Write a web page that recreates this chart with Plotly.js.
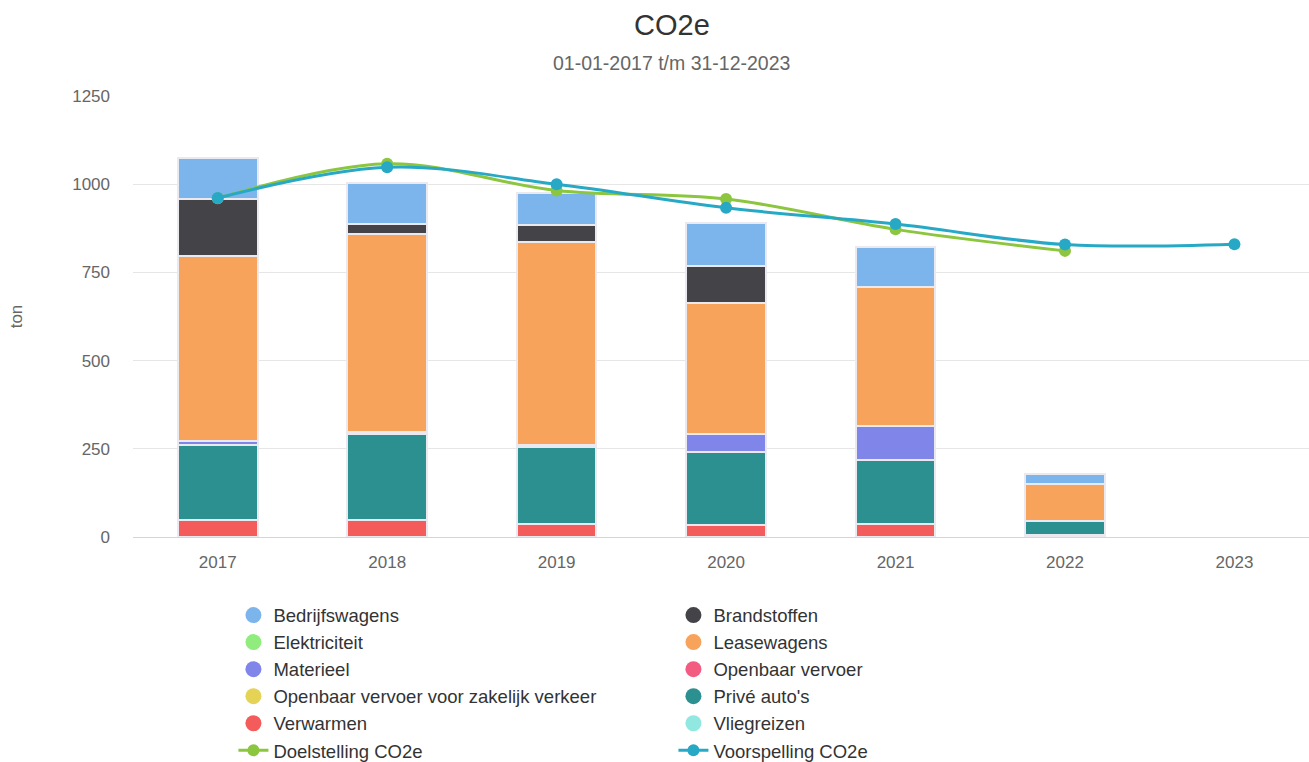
<!DOCTYPE html>
<html>
<head>
<meta charset="utf-8">
<script src="https://cdn.plot.ly/plotly-3.0.1.min.js"></script>
<style>html,body{margin:0;padding:0;background:#fff;}#chart{width:1309px;height:762px;}</style>
</head>
<body>
<div id="chart"></div>
<script>
// ---- data ----
const years = ['2017', '2018', '2019', '2020', '2021', '2022', '2023'];
const bedrijfswagens = [115, 116, 92, 120, 112, 30, 0];
const brandstoffen = [162, 28, 49, 107, 0, 0, 0];
const elektriciteit = [0, 0, 0, 0, 0, 0, 0];
const leasewagens = [523, 559, 575, 371, 394, 104, 0];
const materieel = [12, 8, 4, 49, 97, 0, 0];
const openbaarVervoer = [0, 0, 0, 0, 0, 0, 0];
const ovZakelijk = [0, 0, 0, 0, 0, 0, 0];
const priveAutos = [214, 243, 218, 209, 182, 40, 0];
const verwarmen = [47, 48, 38, 33, 36, 5, 0];
const vliegreizen = [0, 0, 0, 0, 0, 0, 0];
const doelstelling = [960, 1058, 982, 958, 872, 811, null];
const voorspelling = [961, 1048, 1000, 933, 887, 829, 830];
const yTicks = [0, 250, 500, 750, 1000, 1250];

// ---- series (stack order bottom -> top) ----
const barSeries = [
  {name: 'Vliegreizen', y: vliegreizen, color: '#91e8e1', rank: 10},
  {name: 'Verwarmen', y: verwarmen, color: '#f45b5b', rank: 9},
  {name: "Privé auto's", y: priveAutos, color: '#2b908f', rank: 8},
  {name: 'Openbaar vervoer voor zakelijk verkeer', y: ovZakelijk, color: '#e4d354', rank: 7},
  {name: 'Openbaar vervoer', y: openbaarVervoer, color: '#f15c80', rank: 6},
  {name: 'Materieel', y: materieel, color: '#8085e9', rank: 5},
  {name: 'Leasewagens', y: leasewagens, color: '#f7a35c', rank: 4},
  {name: 'Elektriciteit', y: elektriciteit, color: '#90ed7d', rank: 3},
  {name: 'Brandstoffen', y: brandstoffen, color: '#434348', rank: 2},
  {name: 'Bedrijfswagens', y: bedrijfswagens, color: '#7cb5ec', rank: 1}
];

const traces = [];
barSeries.forEach(s => {
  traces.push({
    type: 'bar', x: years, y: s.y.map(v => (v === 0 ? null : v)), name: s.name, showlegend: false,
    legendgroup: s.name, width: 0.47,
    marker: {color: s.color, line: {color: '#e9e9ef', width: 2}},
    hoverinfo: 'x+y+name'
  });
  // legend entry with a round symbol
  traces.push({
    type: 'scatter', mode: 'markers', x: [null], y: [null], name: s.name,
    legendgroup: s.name, legendrank: s.rank,
    marker: {color: s.color, size: 16, symbol: 'circle'}
  });
});

traces.push({
  type: 'scatter', mode: 'lines+markers', x: years, y: doelstelling,
  name: 'Doelstelling CO2e', legendrank: 11,
  line: {color: '#8cc63f', width: 3, shape: 'spline', smoothing: 1},
  marker: {color: '#8cc63f', size: 12}
});
traces.push({
  type: 'scatter', mode: 'lines+markers', x: years, y: voorspelling,
  name: 'Voorspelling CO2e', legendrank: 12,
  line: {color: '#27a9c6', width: 3, shape: 'spline', smoothing: 1},
  marker: {color: '#27a9c6', size: 12}
});

const font = 'Liberation Sans, Arial, Helvetica, sans-serif';
const layout = {
  width: 1309, height: 762,
  margin: {l: 133, r: 0, t: 96, b: 225, autoexpand: false},
  paper_bgcolor: '#ffffff', plot_bgcolor: '#ffffff',
  barmode: 'stack',
  font: {family: font, color: '#333333'},
  title: {text: 'CO2e', font: {family: font, size: 29, color: '#333333'},
          x: 0.4583, xanchor: 'center', xref: 'paper', y: 1 - 25/762, yanchor: 'middle', yref: 'container'},
  annotations: [{
    text: '01-01-2017 t/m 31-12-2023', xref: 'paper', yref: 'paper',
    x: 0.4583, y: 1.0748, xanchor: 'center', yanchor: 'middle', showarrow: false,
    font: {family: font, size: 19.5, color: '#666666'}
  }],
  xaxis: {
    type: 'category', range: [-0.5, 6.44], showgrid: false,
    showline: true, linecolor: '#ccd6eb', linewidth: 1,
    ticks: '', tickfont: {family: font, size: 17, color: '#666666'},
    ticklabelstandoff: 10, fixedrange: true, zeroline: false
  },
  yaxis: {
    range: [0, 1250], tickvals: yTicks, ticktext: yTicks.map(String),
    gridcolor: '#e6e6e6', gridwidth: 1, zeroline: false, showline: false,
    ticks: '', tickfont: {family: font, size: 17, color: '#666666'},
    ticklabelstandoff: 22,
    title: {text: 'ton', font: {family: font, size: 17, color: '#666666'}, standoff: 45},
    fixedrange: true
  },
  legend: {
    orientation: 'h', x: 0.0854, xanchor: 'left', y: -0.135, yanchor: 'top',
    entrywidth: 395, entrywidthmode: 'pixels', traceorder: 'normal',
    font: {family: font, size: 18.5, color: '#333333'},
    bgcolor: 'rgba(0,0,0,0)', itemclick: false, itemdoubleclick: false
  },
  showlegend: true,
  hovermode: 'closest'
};

Plotly.newPlot('chart', traces, layout, {displayModeBar: false, responsive: false});
</script>
</body>
</html>
